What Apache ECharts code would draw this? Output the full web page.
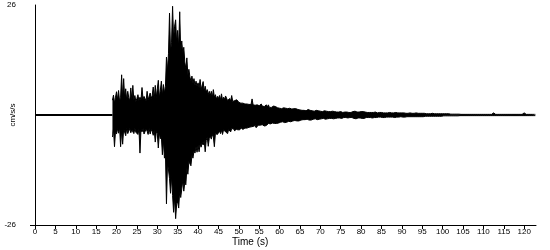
<!DOCTYPE html>
<html>
<head>
<meta charset="utf-8">
<style>html,body{margin:0;padding:0;background:#fff}#c{width:550px;height:250px}</style>
<script src="https://cdn.jsdelivr.net/npm/echarts@6/dist/echarts.min.js"></script>
</head>
<body>
<div id="c"></div>
<script>
// Pre-event quiet trace (s, cm/s/s)
const preEventTimes = [0, 19];
const preEventValues = [0, 0];
const startTime = 19;
const sampleInterval = 0.25;
const maxima = [
  3.5,4.7,2.8,4.2,  5.5,3.6,5.8,3.2,  4.2,9.5,3.8,8.6,  3.9,6.2,3.4,5.6,   // 19-22
  4.1,3.3,6.4,3.6,  7.0,3.5,4.6,3.2,  3.9,4.8,3.4,4.2,  3.6,6.5,3.8,4.4,   // 23-26
  4.5,3.3,5.6,3.6,  3.5,5.2,3.9,4.6,  6.6,3.8,7.0,4.1,  4.5,8.2,4.0,5.9,   // 27-30
  8.0,4.6,7.2,5.2,  6.8,13.7,10.5,14.6, 24.1,15.0,17.2,25.7, 18.0,21.0,22.5,17.0, // 31-34
  20.0,16.0,24.4,15.0, 17.5,14.6,16.0,12.5, 11.0,13.5,9.5,10.8, 9.0,8.0,9.2,7.5, // 35-38
  8.6,7.0,8.0,6.8,  7.6,6.5,8.4,6.0,  6.2,7.9,5.6,6.8,  5.4,6.0,4.8,5.6,   // 39-42
  4.6,5.6,4.2,6.0,  4.2,4.8,3.8,4.4,  3.9,4.6,3.6,5.0,  3.5,4.2,3.7,4.5,   // 43-46
  4.8,3.4,3.6,3.9,  3.3,4.6,3.2,3.6,  3.4,3.0,3.6,3.2,  3.0,3.3,2.8,3.1,   // 47-50
  2.8,3.1,2.6,2.9,  2.6,2.8,2.5,2.7,  2.5,3.8,2.4,2.6,  2.3,2.6,2.4,2.2,   // 51-54
  2.2,2.4,2.6,2.1,  2.3,2.0,2.1,2.4,  1.9,2.4,1.8,2.0,  1.8,1.7,2.1,1.7,   // 55-58
  2.0,1.6,1.7,1.9,  1.6,1.8,1.5,1.7,  1.7,1.5,1.6,1.4,  1.5,1.4,1.6,1.3,   // 59-62
  1.4,1.3,1.5,1.2,  1.5,1.2,1.3,1.4,  1.2,1.3,1.1,1.2,  1.1,1.2,1.0,1.3,   // 63-66
  1.3,1.0,1.1,1.0,  1.0,1.1,0.9,1.1,  1.1,0.9,1.0,0.9,  0.9,1.0,0.8,1.0,   // 67-70
  1.0,0.8,0.9,0.8,  0.8,0.9,0.8,0.9,  0.9,0.7,0.8,0.7,  0.7,0.8,0.7,0.8,   // 71-74
  0.8,0.7,0.6,0.7,  0.7,0.6,0.7,0.6,  0.6,0.7,0.6,0.7,  0.8,0.7,0.9,0.7,   // 75-78
  0.7,0.8,0.7,0.8,  0.8,0.7,0.8,0.6,  0.7,0.8,0.6,0.7,  0.6,0.7,0.6,0.6,   // 79-82
  0.6,0.5,0.7,0.5,  0.5,0.6,0.6,0.5,  0.6,0.5,0.5,0.6,  0.5,0.6,0.5,0.5,   // 83-86
  0.6,0.5,0.5,0.5,  0.5,0.5,0.6,0.5,  0.5,0.6,0.5,0.4,  0.5,0.4,0.5,0.4,   // 87-90
  0.4,0.5,0.4,0.4,  0.5,0.4,0.4,0.4,  0.4,0.4,0.5,0.4,  0.4,0.3,0.4,0.4,   // 91-94
  0.4,0.3,0.4,0.3,  0.3,0.4,0.3,0.3,  0.3,0.3,0.4,0.3,  0.3,0.3,0.3,0.3,   // 95-98
  0.3,0.3,0.3,0.3,  0.3,0.3,0.3,0.2,  0.3,0.2,0.3,0.2,  0.2,0.3,0.2,0.2,   // 99-102
  0.2,0.2,0.2,0.2,  0.2,0.2,0.15,0.2, 0.15,0.15,0.15,0.15, 0.15,0.15,0.15,0.15, // 103-106
  0.15,0.15,0.15,0.15, 0.15,0.5,0.15,0.15, 0.15,0.15,0.15,0.15, 0.15,0.15,0.15,0.15, // 107-110
  0.15,0.15,0.15,0.15, 0.15,0.15,0.5,0.15, 0.15,0.15,0.15,0.15, 0.15,0.15,0.15,0.15, // 111-114
  0.15,0.15,0.15,0.15, 0.15,0.15,0.15,0.15, 0.15,0.15,0.15,0.15, 0.15,0.15,0.15,0.15, // 115-118
  0.15,0.15,0.15,0.15, 0.5,0.15,0.15,0.15, 0.15,0.15,0.15,0.15, 0.15,0.15,0.15,0.15  // 119-122
];
const minima = [
  -5.2,-3.4,-7.5,-3.8, -4.5,-3.2,-4.3,-3.0, -7.5,-3.6,-6.9,-3.3, -3.5,-4.9,-3.1,-4.4, // 19-22
  -4.6,-3.2,-4.2,-3.5, -3.6,-4.4,-3.2,-4.1, -3.8,-4.6,-3.3,-9.0, -3.4,-4.0,-3.2,-4.5, // 23-26
  -4.2,-3.3,-3.8,-4.6, -3.2,-4.5,-3.4,-3.9, -4.8,-3.6,-6.4,-3.9, -4.4,-7.8,-4.2,-5.6, // 27-30
  -5.0,-9.4,-6.0,-10.2, -9.0,-21.0,-11.5,-13.0, -15.0,-18.5,-14.5,-19.0, -23.0,-19.5,-24.5,-21.0, // 31-34
  -20.5,-22.0,-18.0,-19.5, -17.5,-15.5,-18.0,-16.0, -16.5,-12.5,-14.0,-11.0, -10.6,-12.0,-9.5,-10.2, // 35-38
  -8.5,-9.0,-7.5,-8.8, -7.2,-8.7,-6.8,-7.6, -6.5,-7.1,-6.0,-8.7, -6.0,-5.2,-7.4,-5.5, // 39-42
  -5.0,-5.7,-4.6,-5.2, -7.5,-4.4,-4.0,-4.6, -4.2,-3.8,-4.4,-3.6, -4.6,-3.5,-3.7,-4.0, // 43-46
  -3.6,-4.4,-3.4,-3.8, -4.0,-3.2,-3.6,-3.3, -3.8,-3.3,-3.1,-3.5, -3.2,-3.5,-3.0,-3.3, // 47-50
  -3.4,-3.0,-3.1,-2.8, -3.1,-2.8,-2.9,-2.7, -2.8,-2.6,-2.7,-3.0, -2.5,-3.0,-2.6,-2.4, // 51-54
  -2.7,-2.4,-2.5,-2.3, -2.4,-2.6,-2.2,-2.5, -2.2,-2.0,-2.4,-2.1, -2.1,-1.9,-1.8,-2.0, // 55-58
  -1.8,-2.0,-1.7,-1.9, -1.9,-1.7,-1.8,-1.6, -1.6,-1.8,-1.5,-1.7, -1.7,-1.5,-1.4,-1.6, // 59-62
  -1.5,-1.4,-1.6,-1.3, -1.3,-1.4,-1.2,-1.4, -1.4,-1.2,-1.3,-1.1, -1.3,-1.1,-1.2,-1.0, // 63-66
  -1.1,-1.2,-1.0,-1.2, -1.2,-1.0,-1.1,-0.9, -1.0,-1.1,-0.9,-1.0, -1.0,-0.9,-1.0,-0.8, // 67-70
  -0.9,-1.0,-0.8,-0.9, -0.9,-0.8,-0.9,-0.8, -0.8,-0.9,-0.7,-0.8, -0.8,-0.7,-0.8,-0.7, // 71-74
  -0.7,-0.8,-0.7,-0.6, -0.7,-0.6,-0.7,-0.7, -0.8,-0.6,-0.7,-0.6, -0.7,-0.8,-0.7,-0.9, // 75-78
  -0.9,-0.7,-0.8,-0.7, -0.7,-0.8,-0.6,-0.8, -0.8,-0.6,-0.7,-0.6, -0.7,-0.6,-0.6,-0.7, // 79-82
  -0.6,-0.6,-0.5,-0.6, -0.6,-0.5,-0.6,-0.5, -0.5,-0.6,-0.5,-0.6, -0.6,-0.5,-0.5,-0.5, // 83-86
  -0.5,-0.5,-0.6,-0.5, -0.5,-0.6,-0.5,-0.5, -0.6,-0.5,-0.5,-0.4, -0.4,-0.5,-0.4,-0.5, // 87-90
  -0.5,-0.4,-0.4,-0.4, -0.4,-0.4,-0.5,-0.4, -0.4,-0.4,-0.4,-0.4, -0.4,-0.4,-0.3,-0.4, // 91-94
  -0.3,-0.4,-0.3,-0.3, -0.3,-0.3,-0.4,-0.3, -0.3,-0.3,-0.3,-0.3, -0.3,-0.3,-0.3,-0.3, // 95-98
  -0.3,-0.3,-0.3,-0.3, -0.3,-0.2,-0.3,-0.2, -0.3,-0.2,-0.2,-0.2, -0.2,-0.2,-0.2,-0.2, // 99-102
  -0.2,-0.2,-0.2,-0.2, -0.2,-0.15,-0.2,-0.15, -0.15,-0.15,-0.15,-0.15, -0.15,-0.15,-0.15,-0.15, // 103-106
  -0.15,-0.15,-0.15,-0.15, -0.15,-0.15,-0.15,-0.15, -0.15,-0.15,-0.15,-0.15, -0.15,-0.15,-0.4,-0.15, // 107-110
  -0.15,-0.15,-0.15,-0.15, -0.15,-0.15,-0.15,-0.15, -0.15,-0.15,-0.15,-0.15, -0.15,-0.15,-0.15,-0.15, // 111-114
  -0.15,-0.15,-0.15,-0.15, -0.15,-0.15,-0.15,-0.15, -0.15,-0.15,-0.15,-0.15, -0.15,-0.15,-0.15,-0.15, // 115-118
  -0.15,-0.15,-0.15,-0.15, -0.15,-0.15,-0.15,-0.15, -0.15,-0.15,-0.15,-0.15, -0.15,-0.15,-0.15,-0.15  // 119-122
];
const xTickLabels = [0,5,10,15,20,25,30,35,40,45,50,55,60,65,70,75,80,85,90,95,100,105,110,115,120];
const yTickLabels = [-26, 26];
const xMax = 122.9;

const FONT = '"Liberation Sans", Arial, sans-serif';
const preData = preEventTimes.map((t, i) => [t, preEventValues[i]]);
const maxData = maxima.map((v, i) => [startTime + i * sampleInterval, v]);
const minData = minima.map((v, i) => [startTime + i * sampleInterval, v]);

const chart = echarts.init(document.getElementById('c'), null, {renderer: 'canvas'});
const envStyle = {
  type: 'line', showSymbol: false, symbol: 'none', silent: true,
  lineStyle: {color: '#000', width: 1},
  areaStyle: {color: '#000', opacity: 1, origin: 0}
};
chart.setOption({
  animation: false,
  backgroundColor: '#fff',
  title: {
    text: 'Time (s)', left: 232, top: 237, padding: 0,
    textStyle: {fontFamily: FONT, fontSize: 10, fontWeight: 'normal', color: '#000'}
  },
  grid: {left: 35, right: 14, top: 5, bottom: 25, outerBoundsMode: 'none', containLabel: false},
  xAxis: {
    type: 'value', min: 0, max: xMax,
    axisLine: {show: true, onZero: false, lineStyle: {color: '#000', width: 1}},
    axisTick: {show: true, length: 4, lineStyle: {color: '#000'}, customValues: xTickLabels},
    axisLabel: {fontFamily: FONT, fontSize: 8, color: '#000', margin: 3, customValues: xTickLabels},
    splitLine: {show: false}
  },
  yAxis: {
    type: 'value', min: -26, max: 26,
    name: 'cm/s/s', nameLocation: 'middle', nameGap: 18, nameRotate: 90, nameMoveOverlap: false,
    nameTextStyle: {fontFamily: FONT, fontSize: 8, color: '#000'},
    axisLine: {show: true, onZero: false, lineStyle: {color: '#000', width: 1}},
    axisTick: {show: true, length: 5, lineStyle: {color: '#000'}, customValues: [-26]},
    axisLabel: {fontFamily: FONT, fontSize: 8, color: '#000', margin: 19, customValues: yTickLabels},
    splitLine: {show: false}
  },
  series: [
    {type: 'line', data: preData, showSymbol: false, symbol: 'none',
     lineStyle: {color: '#000', width: 2}, silent: true},
    Object.assign({data: maxData}, envStyle),
    Object.assign({data: minData}, envStyle)
  ]
});
</script>
</body>
</html>
